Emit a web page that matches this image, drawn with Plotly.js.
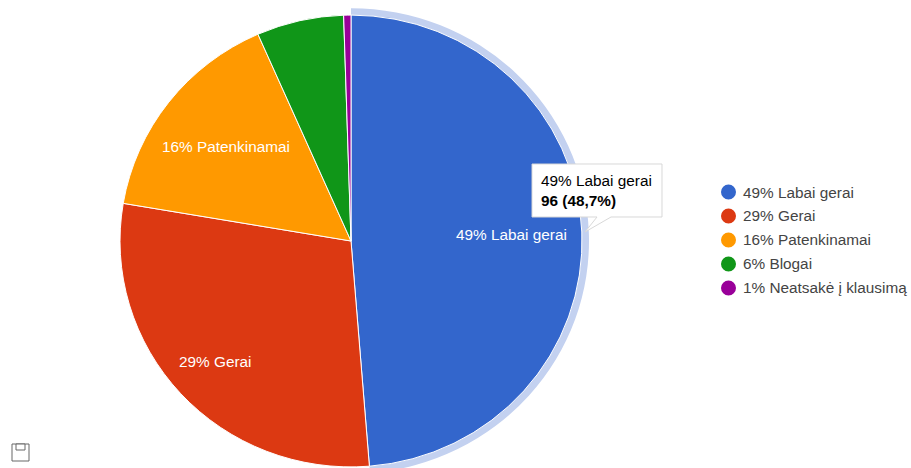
<!DOCTYPE html>
<html><head><meta charset="utf-8">
<script src="https://cdn.plot.ly/plotly-3.0.1.min.js"></script>
<style>html,body{margin:0;padding:0;background:#fff;overflow:hidden;width:911px;height:468px}#c{width:911px;height:540px;transform-origin:0 0;transform:scale(1,0.978)}</style>
</head><body><div id="c"></div>
<script>
var categories=["Labai gerai","Gerai","Patenkinamai","Blogai","Neatsakė į klausimą"];
var percentLabels=["49%","29%","16%","6%","1%"];
var values=[96,57,31,12,1];
var colors=["#3366cc","#dc3912","#ff9900","#109618","#990099"];
var tooltipLines=["49% Labai gerai","<b>96 (48,7%)</b>"];
var W=911,H=540,k=0.978;
function px(x){return x/W}
function py(y){return 1-(y/k)/H}
var cx=351,cy=241,r=231,ro=238;
function dom(rad){return {x:[px(cx-rad),px(cx+rad)],y:[py(cy+rad*k),py(cy-rad*k)]}}
var total=values.reduce(function(a,b){return a+b},0);
var font='"Liberation Sans",Arial,sans-serif';
var fs=15.35;
var ring={type:'pie',values:[values[0],total-values[0]],domain:dom(ro),hole:r/ro,sort:false,direction:'clockwise',rotation:0,
 marker:{colors:['#c3d1f0','rgba(0,0,0,0)'],line:{width:0}},textinfo:'none',hoverinfo:'skip',showlegend:false};
var pie={type:'pie',labels:categories,values:values,domain:dom(r),sort:false,direction:'clockwise',rotation:0,
 marker:{colors:colors,line:{color:'#fff',width:1}},textinfo:'none',hoverinfo:'skip',showlegend:false};
var labelPos=[[511,234],[215,361],[226,146]];
var ann=[],shapes=[];
labelPos.forEach(function(p,i){ann.push({xref:'paper',yref:'paper',x:px(p[0]),y:py(p[1]),text:percentLabels[i]+' '+categories[i],showarrow:false,xanchor:'center',yanchor:'middle',font:{family:font,size:fs,color:'#fff'}})});
var legY=[192,216,240,264,288];
categories.forEach(function(c,i){
 shapes.push({type:'circle',xref:'paper',yref:'paper',x0:px(721),x1:px(736),y0:py(legY[i]+7.5),y1:py(legY[i]-7.5),fillcolor:colors[i],line:{width:0}});
 ann.push({xref:'paper',yref:'paper',x:px(741),y:py(legY[i]),text:percentLabels[i]+' '+c,showarrow:false,xanchor:'left',yanchor:'middle',font:{family:font,size:fs,color:'#444'}});
});
shapes.push({type:'path',path:'M'+px(532)+' '+py(164)+' L'+px(662)+' '+py(164)+' L'+px(662)+' '+py(217)+' L'+px(611)+' '+py(217)+' L'+px(585)+' '+py(232)+' L'+px(597)+' '+py(217)+' L'+px(532)+' '+py(217)+' Z',xref:'paper',yref:'paper',fillcolor:'#fff',line:{color:'#d8d8d8',width:1}});
var tipY=[180,201];
tooltipLines.forEach(function(t,i){ann.push({xref:'paper',yref:'paper',x:px(539),y:py(tipY[i]),text:t,align:'left',showarrow:false,xanchor:'left',yanchor:'middle',font:{family:font,size:fs,color:'#000'}})});
shapes.push({type:'rect',xref:'paper',yref:'paper',x0:px(12),x1:px(29),y0:py(461),y1:py(444),line:{color:'#666',width:1},fillcolor:'#fff'});
shapes.push({type:'rect',xref:'paper',yref:'paper',x0:px(16),x1:px(25),y0:py(450),y1:py(444),line:{color:'#666',width:1},fillcolor:'#fff'});
Plotly.newPlot('c',[ring,pie],{width:W,height:H,margin:{l:0,r:0,t:0,b:0},paper_bgcolor:'#fff',showlegend:false,annotations:ann,shapes:shapes},{displayModeBar:false,staticPlot:true});
</script></body></html>
